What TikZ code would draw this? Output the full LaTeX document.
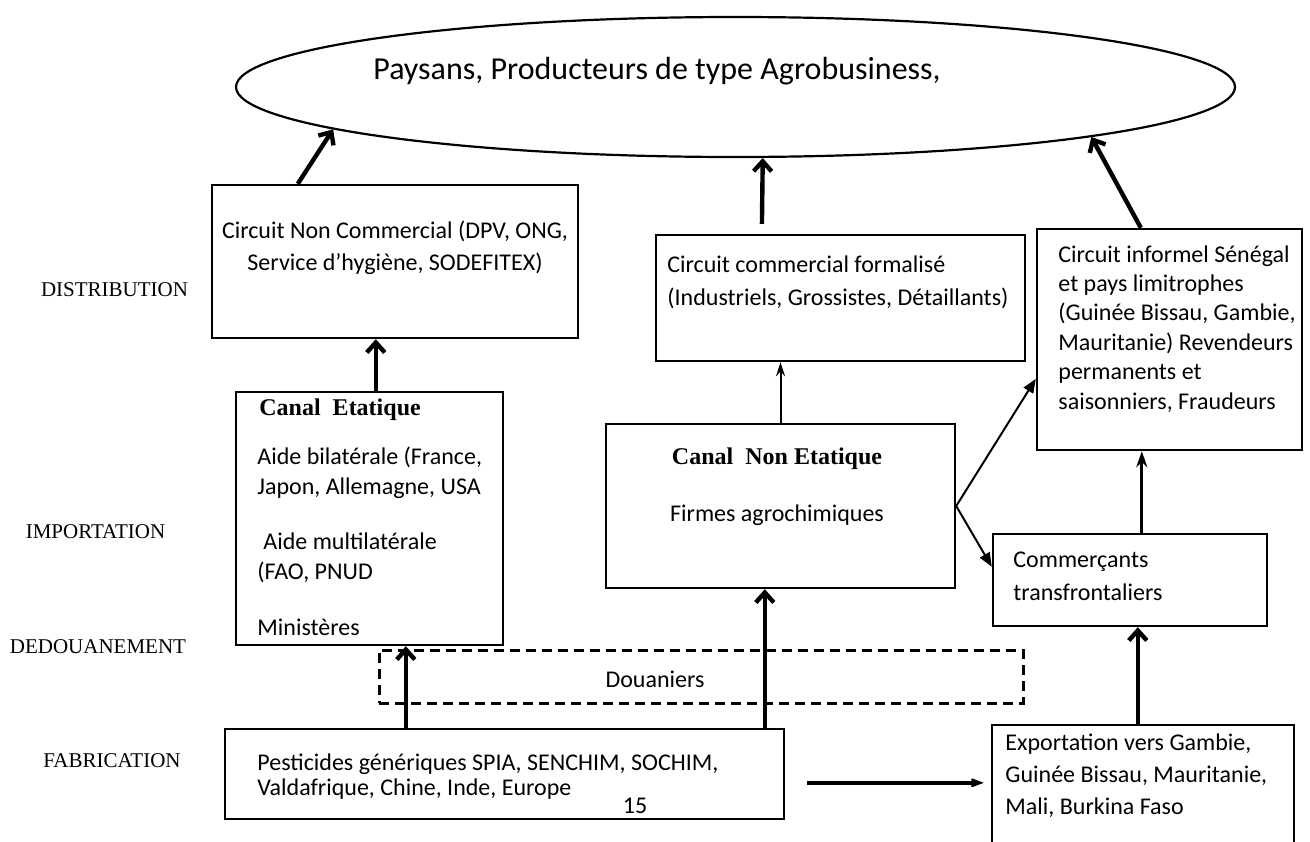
\documentclass[tikz,border=0pt]{standalone}
\usepackage{fontspec}
\setmainfont{Carlito}
\newfontfamily\tnr{Liberation Serif}
\usetikzlibrary{shapes.geometric,arrows.meta,calc,fit}
\begin{document}
\begin{tikzpicture}[x=0.5pt,y=-0.5pt,
  boxed/.style={draw, line width=1.2pt, inner sep=0pt},
  dashbox/.style={draw, line width=1.5pt, dash pattern=on 5pt off 3pt, inner sep=0pt},
  txt/.style={inner sep=0pt, align=left, font=\fontsize{12}{14.7}\selectfont},
  ctxt/.style={inner sep=0pt, align=center, font=\fontsize{12}{16}\selectfont},
  lvl/.style={inner sep=0pt, anchor=base, font=\tnr\fontsize{10.5}{12}\selectfont},
  ttl/.style={inner sep=0pt, font=\tnr\bfseries\fontsize{12}{14}\selectfont},
  bigarr/.style={line width=2.2pt, -{Straight Barb[length=5pt,width=9pt]}},
  thinarr/.style={line width=1pt, -{Stealth[length=7pt,width=4.5pt]}},
  midarr/.style={line width=1.5pt, -{Stealth[length=8pt,width=5.5pt]}},
  triarr/.style={line width=1pt, -{Triangle[length=7pt,width=5.5pt]}},
  exparr/.style={line width=2.2pt, -{Stealth[length=12pt,width=9pt,inset=8pt]}}
]
\useasboundingbox (0,0) rectangle (1310,841);

% ellipse
\node[ellipse, draw, line width=1.1pt, inner sep=0pt, minimum width=499.5pt, minimum height=70pt] (ell) at (735.5,87) {};
\node[inner sep=0pt, anchor=base west, font=\fontsize{16}{19}\selectfont] (ellt) at (373,79) {Paysans, Producteurs de type Agrobusiness,};

% boxes
\node[boxed, fit={(212,185) (578,338)}] (cnc) {};
\node[boxed, fit={(656,235) (1025,361)}] (formal) {};
\node[boxed, fit={(1037,229) (1302,450)}] (inf) {};
\node[boxed, fit={(236,392) (503,645)}] (etat) {};
\node[boxed, fit={(606,424) (955,588)}] (ne) {};
\node[boxed, fit={(993,534) (1267,626)}] (com) {};
\node[dashbox, fit={(379,650) (1023,703)}] (dou) {};
\node[boxed, fit={(225,729) (784,819)}] (pest) {};
\node[boxed, fit={(992,725) (1294,880)}] (exp) {};

% texts
\node[ctxt, anchor=north] (cnct) at (395,221) {Circuit Non Commercial (DPV, ONG,\\Service d’hygiène, SODEFITEX)};
\node[txt, anchor=north west, font=\fontsize{12}{16.5}\selectfont] (formalt) at (667,255) {Circuit commercial formalisé\\(Industriels, Grossistes, Détaillants)};
\node[txt, anchor=north west] (inft) at (1058,245) {Circuit informel Sénégal\\et pays limitrophes\\(Guinée Bissau, Gambie,\\Mauritanie) Revendeurs\\permanents et\\saisonniers, Fraudeurs};
\node[ttl, anchor=base west] (etatt) at (259,415) {Canal\ \ Etatique};
\node[txt, anchor=north west, font=\fontsize{12}{15}\selectfont] (etat1) at (257,447) {Aide bilatérale (France,\\Japon, Allemagne, USA};
\node[txt, anchor=north west, font=\fontsize{12}{15}\selectfont] (etat2) at (257,532) {\hspace*{3pt}Aide multilatérale\\(FAO, PNUD};
\node[txt, anchor=base west] (etat3) at (257,635) {Ministères};
\node[ttl, anchor=base] (net) at (777,464) {Canal\ \ Non Etatique};
\node[txt, anchor=base] (ne1) at (777,521) {Firmes agrochimiques};
\node[txt, anchor=north west, font=\fontsize{12}{16.5}\selectfont] (comt) at (1013,552) {Commerçants\\transfrontaliers};
\node[txt, anchor=base] (dout) at (655,687) {Douaniers};
\node[txt, anchor=north west, font=\fontsize{12}{12.5}\selectfont] (pestt) at (257,753) {Pesticides génériques SPIA, SENCHIM, SOCHIM,\\Valdafrique, Chine, Inde, Europe};
\node[txt, anchor=base] (pnum) at (635,813) {15};
\node[txt, anchor=north west, font=\fontsize{12}{16}\selectfont] (expt) at (1005,733) {Exportation vers Gambie,\\Guinée Bissau, Mauritanie,\\Mali, Burkina Faso};

% level labels
\node[lvl] (l1) at (114.5,296) {DISTRIBUTION};
\node[lvl] (l2) at (95.5,538) {IMPORTATION};
\node[lvl] (l3) at (98,653) {DEDOUANEMENT};
\node[lvl] (l4) at (112,767) {FABRICATION};

% connectors
\coordinate (s1) at ($(cnc.north west)+(87,0)$);
\draw[bigarr] (s1) -- (ell.186.4);
\coordinate (s2) at ($(formal.north west)+(107,0)$);
\draw[bigarr, shorten <=5pt] (s2) -- (ell.-69.3);
\coordinate (s3) at ($(inf.north west)+(105,0)$);
\draw[bigarr] (s3) -- (ell.-8.07);
\coordinate (s4) at ($(etat.north west)+(141,0)$);
\draw[bigarr] (s4) -- (s4 |- cnc.south);
\draw[thinarr] (ne.north) -- (ne.north |- formal.south);
\coordinate (t6) at ($(inf.north west)+(0,151)$);
\draw[triarr] (ne.east) -- (t6);
\coordinate (t7) at ($(com.north west)+(0,34)$);
\draw[triarr] (ne.east) -- (t7);
\coordinate (s8) at ($(com.north west)+(150,0)$);
\draw[midarr] (s8) -- (s8 |- inf.south);
\coordinate (s9) at ($(pest.north west)+(182,0)$);
\draw[bigarr] (s9) -- (s9 |- etat.south);
\coordinate (s10) at ($(pest.north west)+(541,0)$);
\draw[bigarr] (s10) -- (s10 |- ne.south);
\coordinate (s11) at ($(exp.north west)+(147,0)$);
\draw[bigarr] (s11) -- (s11 |- com.south);
\coordinate (s12) at ($(pest.north east)+(0,55)$);
\draw[exparr, shorten <=11pt, shorten >=3.5pt] (s12) -- (s12 -| exp.west);
\end{tikzpicture}
\end{document}
